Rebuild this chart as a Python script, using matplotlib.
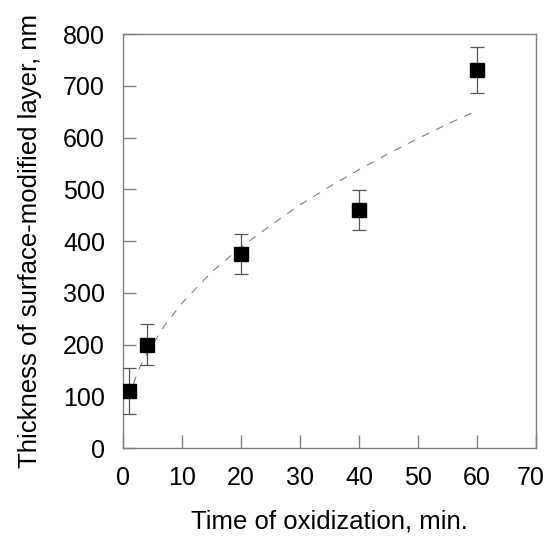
import matplotlib
matplotlib.use("Agg")
import matplotlib.pyplot as plt
import matplotlib.transforms as mtransforms

plt.rcParams['font.family'] = ['Liberation Sans', 'DejaVu Sans']

# measured points
time_min = [1, 4, 20, 40, 60]
thickness_nm = [110, 200, 375, 460, 730]
thickness_err = [44, 40, 38, 38, 44]

# dashed trend curve
fit_x = [1, 2, 3, 4, 7, 10, 15, 20, 25, 30, 35, 40, 45, 50, 55, 60]
fit_y = [95, 132, 160, 181, 236, 280, 340, 388, 430, 470, 505, 538, 569, 598, 626, 652]

x_ticks = [0, 10, 20, 30, 40, 50, 60, 70]
y_ticks = [0, 100, 200, 300, 400, 500, 600, 700, 800]

fig = plt.figure(figsize=(5.48, 5.39), dpi=100)
ax = fig.add_axes([0.2245, 0.1688, 0.978 - 0.2245, 0.9369 - 0.1688])

spine_col = "#808080"
ax.plot(fit_x, fit_y, linestyle=(0, (7, 7)), color="#808080", linewidth=0.8, zorder=1)
ax.errorbar(time_min, thickness_nm, yerr=thickness_err, fmt="s", color="black",
            markersize=9.5, ecolor="#555555", elinewidth=0.9, capsize=5,
            capthick=0.9, zorder=3)

ax.set_xlim(0, 70)
ax.set_ylim(0, 800)
ax.set_xticks(x_ticks)
ax.set_yticks(y_ticks)

for s in ax.spines.values():
    s.set_color(spine_col)
    s.set_linewidth(1.0)

ax.tick_params(axis="both", direction="in", length=9.5, width=1.0, color=spine_col,
               labelsize=18, labelcolor="black")
ax.tick_params(axis="x", pad=13)
ax.tick_params(axis="y", pad=13)

# last x label sits right at the figure edge, nudge it in a little
last = ax.xaxis.get_major_ticks()[-1].label1
last.set_transform(last.get_transform() +
                   mtransforms.ScaledTranslation(-4 / 72, 0, fig.dpi_scale_trans))

ax.set_xlabel("Time of oxidization, min.", fontsize=18.5, labelpad=14)
ax.set_ylabel("Thickness of surface-modified layer, nm", fontsize=18.5, labelpad=15)

fig.savefig("out.png", dpi=100)
